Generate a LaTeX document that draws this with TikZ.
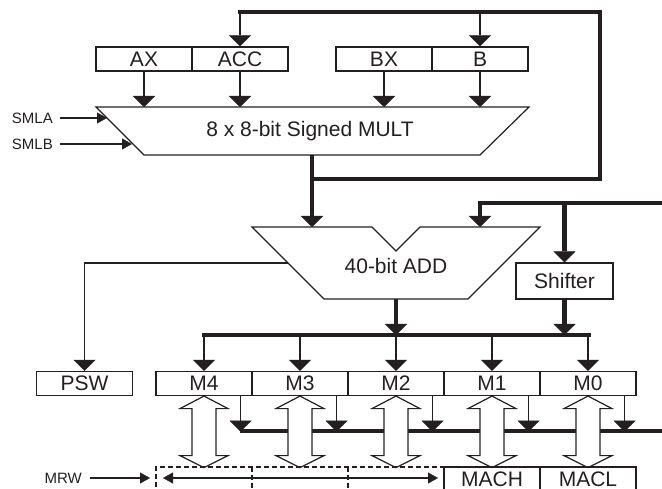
\documentclass[tikz,border=0pt]{standalone}
\usepackage{fontspec}
\setmainfont{Liberation Sans}
\usetikzlibrary{arrows.meta,calc}
\definecolor{ink}{HTML}{231F20}
\begin{document}
\begin{tikzpicture}[x=1pt,y=-1pt,color=ink,
  thinln/.style={line width=1.2pt},
  busln/.style={line width=4.6pt},
  bigtip/.style={-{Triangle[width=22pt,length=11pt,line width=0.4pt]}},
  smalltip/.style={-{Triangle[width=11pt,length=10pt,line width=0.4pt]}},
  reg/.style={draw, line width=1.2pt, minimum width=96pt, minimum height=24pt, inner sep=0pt, font=\fontsize{21}{24}\selectfont},
  bigtxt/.style={inner sep=0pt, font=\fontsize{21}{24}\selectfont},
  lbl/.style={inner sep=0pt, font=\fontsize{15}{18}\selectfont},
  dblarrow/.style={draw, line width=1.2pt, fill=white},
  dashln/.style={line width=1.2pt, dash pattern=on 5pt off 3pt},
]
\clip (0,0) rectangle (662,489);

% ---- input registers
\node[reg] (AX)  at (144,59) {AX};
\node[reg] (ACC) at (240,59) {ACC};
\node[reg] (BX)  at (384,59) {BX};
\node[reg] (B)   at (480,59) {B};

% ---- multiplier
\draw[thinln] (96,107) -- (529,107) -- (480,155) -- (144,155) -- cycle;
\node[bigtxt] (mult) at (310,131) {8 x 8-bit Signed MULT};
\coordinate (mAX)  at (144,107);
\coordinate (mACC) at (240,107);
\coordinate (mBX)  at (384,107);
\coordinate (mB)   at (480,107);
\coordinate (mOut) at (312,155);
\coordinate (mSA)  at (107,118);
\coordinate (mSB)  at (132,144);

\foreach \r/\m in {AX/mAX,ACC/mACC,BX/mBX,B/mB}
  \draw[thinln,bigtip] (\r.south) -- (\m);

% SMLA / SMLB
\node[lbl,anchor=east] (smla) at (53,118) {SMLA};
\node[lbl,anchor=east] (smlb) at (53,144) {SMLB};
\draw[thinln,smalltip] ($(smla.east)+(7,0)$) -- (mSA);
\draw[thinln,smalltip] ($(smlb.east)+(7,0)$) -- (mSB);

% ---- top bus loop
\coordinate (tbL) at (238,12);
\coordinate (tbR) at (600,12);
\coordinate (tbRB) at (600,179);
\coordinate (tbJ) at (312,179);
\draw[busln,line join=miter] (tbL) -- (tbR) -- (tbRB) -- (tbJ);
\draw[thinln,bigtip] (ACC.north |- tbL) -- (ACC.north);
\draw[thinln,bigtip] (B.north |- tbL) -- (B.north);

% ---- adder
\draw[thinln] (252,227) -- (372,227) -- (396,251) -- (420,227) -- (540,227)
  -- (468,299) -- (324,299) -- cycle;
\node[bigtxt] (add) at (396,266) {40-bit ADD};
\coordinate (aIn1) at (312,227);
\coordinate (aIn2) at (480,227);
\coordinate (aOut) at (396,299);
\coordinate (aPsw) at (288,263);
\draw[busln,bigtip] (mOut) -- (aIn1);

% ---- second bus & shifter
\node[reg, minimum width=97pt, minimum height=36pt] (SH) at (564.5,281) {Shifter};
\coordinate (b2R) at (662,203);
\coordinate (b2L) at (480,203);
\draw[busln,bigtip,line join=miter] (b2R) -- (b2L) -- (aIn2);
\draw[busln,bigtip] (SH.north |- b2R) -- (SH.north);

% ---- M bus
\coordinate (mbL) at (202,335);
\coordinate (mbR) at (591,335);
\draw[busln] (mbL) -- (mbR);
\draw[busln,bigtip] (aOut) -- (aOut |- mbL);
\draw[busln,bigtip] (SH.south) -- (SH.south |- mbL);

% ---- PSW
\node[reg] (PSW) at (84.5,383.5) {PSW};
\draw[thinln,bigtip] (aPsw) -- (PSW.north |- aPsw) -- (PSW.north);

% ---- M registers
\node[reg] (M4) at (204,383.5) {M4};
\node[reg] (M3) at (300,383.5) {M3};
\node[reg] (M2) at (396,383.5) {M2};
\node[reg] (M1) at (492,383.5) {M1};
\node[reg] (M0) at (588,383.5) {M0};
\foreach \r in {M4,M3,M2,M1,M0}
  \draw[thinln,bigtip] (\r.north |- mbL) -- (\r.north);

% ---- lower bus
\coordinate (lbL) at (240,431);
\coordinate (lbR) at (662,431);
\draw[busln] (lbL) -- (lbR);
\foreach \r in {M4,M3,M2,M1,M0}
  \draw[thinln,bigtip] ($(\r.south east)+(-12,0)$) -- ++(0,35.5);

% ---- double arrows
\foreach \r in {M4,M3,M2,M1,M0}
  \draw[dblarrow,line join=miter] (\r.south) -- ++(24,12.5) -- ++(-12,0) -- ++(0,47)
    -- ++(12,0) -- ++(-24,12) -- ++(-24,-12) -- ++(12,0) -- ++(0,-47) -- ++(-12,0) -- cycle;

% ---- MRW region
\draw[dashln] (156,495) -- (156,467) -- (444,467);
\draw[dashln] (252,467) -- (252,495);
\draw[dashln] (348,467) -- (348,495);
\draw[thinln] (444,495) -- (444,467) -- (636,467) -- (636,495);
\draw[thinln] (540,467) -- (540,495);
\node[bigtxt] (MACH) at (492,479) {MACH};
\node[bigtxt] (MACL) at (588,479) {MACL};
\node[lbl,anchor=east] (mrw) at (82,478) {MRW};
\coordinate (mrwIn) at (150,478);
\draw[thinln,smalltip] ($(mrw.east)+(8,0)$) -- (mrwIn);
\coordinate (mrL) at (163,478);
\coordinate (mrR) at (438,478);
\draw[thinln,{Triangle[width=11pt,length=10pt,line width=0.4pt]}-{Triangle[width=11pt,length=10pt,line width=0.4pt]}] (mrL) -- (mrR);
\end{tikzpicture}
\end{document}
